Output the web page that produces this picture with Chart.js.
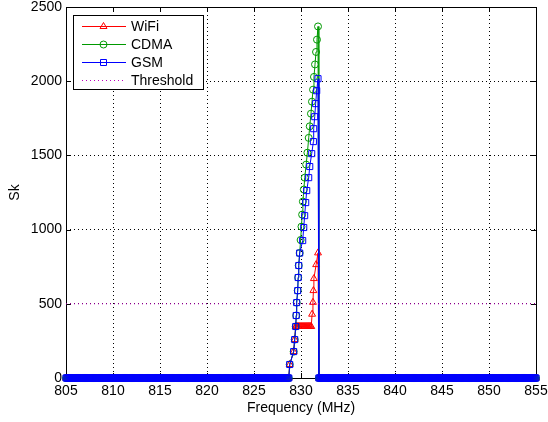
<!DOCTYPE html>
<html>
<head>
<meta charset="utf-8">
<script src="https://cdn.jsdelivr.net/npm/chart.js@4.4.0/dist/chart.umd.min.js"></script>
<style>
  html, body { margin: 0; padding: 0; background: #fff; }
</style>
</head>
<body>
<canvas id="chart" width="548" height="422"></canvas>
<script>
// zero floor either side of the ramp, one sample every 0.1 MHz
const lowBandFreq = [];
for (let f = 8050; f <= 8287; f++) lowBandFreq.push(f / 10);
const highBandFreq = [];
for (let f = 8320; f <= 8550; f++) highBandFreq.push(f / 10);

// ramp section
const wifiFreq = [828.8, 829.22, 829.33, 829.44, 829.5, 829.6, 829.7, 829.8, 829.9, 830.0,
  830.1, 830.2, 830.3, 830.4, 830.5, 830.6, 830.7, 830.8, 830.9, 831.0,
  831.09, 831.18, 831.27, 831.32, 831.37, 831.61, 831.81, 831.9];
const wifiVals = [91, 178, 259, 347, 347, 347, 347, 347, 347, 347,
  347, 347, 347, 347, 347, 347, 347, 347, 347, 347,
  347, 430, 510, 589, 670, 764, 843, 0];

const cdmaFreq = [828.8, 829.22, 829.33, 829.44, 829.49, 829.54, 829.65, 829.7, 829.76, 829.86,
  829.96, 830.05, 830.12, 830.2, 830.3, 830.4, 830.55, 830.68, 830.82, 830.93,
  831.06, 831.17, 831.28, 831.38, 831.49, 831.6, 831.7, 831.81, 831.9];
const cdmaVals = [91, 178, 259, 347, 421, 508, 589, 677, 758, 842,
  930, 1020, 1101, 1189, 1270, 1350, 1438, 1518, 1618, 1696,
  1781, 1862, 1943, 2029, 2113, 2197, 2280, 2369, 0];

const gsmFreq = [828.8, 829.22, 829.33, 829.44, 829.49, 829.54, 829.65, 829.7, 829.76, 829.86,
  830.18, 830.29, 830.39, 830.5, 830.61, 830.82, 830.93, 831.14, 831.32, 831.35,
  831.46, 831.56, 831.67, 831.81, 831.9];
const gsmVals = [91, 178, 259, 347, 421, 508, 589, 677, 758, 842,
  926, 1014, 1094, 1182, 1263, 1350, 1425, 1512, 1593, 1680,
  1761, 1849, 1936, 2017, 0];

const threshold = 500;
const xTicks = [805, 810, 815, 820, 825, 830, 835, 840, 845, 850, 855];
const yTicks = [0, 500, 1000, 1500, 2000, 2500];

const font = { family: "'Liberation Sans', Arial, sans-serif", size: 14 };

function series(freq, vals) {
  const pts = lowBandFreq.map(f => ({ x: f, y: 0 }));
  freq.forEach((f, i) => pts.push({ x: f, y: vals[i] }));
  highBandFreq.forEach(f => pts.push({ x: f, y: 0 }));
  return pts;
}

const legendItems = [
  { label: 'WiFi', color: '#ff0000', marker: 'triangle' },
  { label: 'CDMA', color: '#009900', marker: 'circle' },
  { label: 'GSM', color: '#0000ff', marker: 'rect' },
  { label: 'Threshold', color: 'rgb(191,0,191)', marker: null, dash: [1, 3] }
];

function marker(ctx, type, x, y) {
  ctx.beginPath();
  if (type === 'triangle') {
    ctx.moveTo(x, y - 4);
    ctx.lineTo(x + 3.5, y + 2);
    ctx.lineTo(x - 3.5, y + 2);
    ctx.closePath();
  } else if (type === 'circle') {
    ctx.arc(x, y, 3.5, 0, Math.PI * 2);
  } else {
    ctx.rect(x - 3, y - 3, 6, 6);
  }
  ctx.stroke();
}

// matlab style box, inward ticks
const framePlugin = {
  id: 'frame',
  beforeDatasetsDraw(chart) {
    const { ctx, chartArea: a, scales: { x, y } } = chart;
    ctx.save();
    ctx.strokeStyle = '#000';
    ctx.lineWidth = 1;
    ctx.strokeRect(a.left + 0.5, a.top + 0.5, a.right - a.left, a.bottom - a.top);
    ctx.beginPath();
    xTicks.forEach(v => {
      const px = Math.round(x.getPixelForValue(v)) + 0.5;
      ctx.moveTo(px, a.bottom); ctx.lineTo(px, a.bottom - 5);
      ctx.moveTo(px, a.top); ctx.lineTo(px, a.top + 5);
    });
    yTicks.forEach(v => {
      const py = Math.round(y.getPixelForValue(v)) + 0.5;
      ctx.moveTo(a.left, py); ctx.lineTo(a.left + 5, py);
      ctx.moveTo(a.right, py); ctx.lineTo(a.right - 5, py);
    });
    ctx.stroke();
    ctx.restore();
  },
  afterDraw(chart) {
    const ctx = chart.ctx;
    ctx.save();
    ctx.fillStyle = '#fff';
    ctx.fillRect(73.5, 15.5, 130, 74);
    ctx.strokeStyle = '#000';
    ctx.lineWidth = 1;
    ctx.strokeRect(73.5, 15.5, 130, 74);
    ctx.font = '14px ' + font.family;
    ctx.textBaseline = 'middle';
    legendItems.forEach((it, i) => {
      const yy = 26.5 + i * 18;
      ctx.strokeStyle = it.color;
      ctx.setLineDash(it.dash || []);
      ctx.beginPath();
      ctx.moveTo(82, yy); ctx.lineTo(126, yy);
      ctx.stroke();
      ctx.setLineDash([]);
      if (it.marker) marker(ctx, it.marker, 103.5, yy);
      ctx.fillStyle = '#000';
      ctx.fillText(it.label, 131, yy + 1);
    });
    ctx.restore();
  }
};

new Chart(document.getElementById('chart'), {
  type: 'line',
  data: {
    datasets: [
      {
        label: 'Threshold',
        data: [{ x: 805, y: threshold }, { x: 855, y: threshold }],
        borderColor: 'rgb(191,0,191)', borderWidth: 1, borderDash: [1, 3],
        pointRadius: 0, order: 0
      },
      {
        label: 'GSM', data: series(gsmFreq, gsmVals),
        borderColor: '#0000ff', borderWidth: 1,
        pointStyle: 'rect', pointRadius: 4.3, pointBorderWidth: 1,
        pointBorderColor: '#0000ff', pointBackgroundColor: 'rgba(0,0,0,0)',
        clip: false, order: 1
      },
      {
        label: 'CDMA', data: series(cdmaFreq, cdmaVals),
        borderColor: '#009900', borderWidth: 1,
        pointStyle: 'circle', pointRadius: 3.5, pointBorderWidth: 1,
        pointBorderColor: '#009900', pointBackgroundColor: 'rgba(0,0,0,0)',
        clip: false, order: 2
      },
      {
        label: 'WiFi', data: series(wifiFreq, wifiVals),
        borderColor: '#ff0000', borderWidth: 1,
        pointStyle: 'triangle', pointRadius: 4, pointBorderWidth: 1,
        pointBorderColor: '#ff0000', pointBackgroundColor: 'rgba(0,0,0,0)',
        clip: false, order: 3
      }
    ]
  },
  options: {
    responsive: false,
    animation: false,
    layout: { padding: { top: 7, right: 12, left: 0, bottom: 0 } },
    plugins: { legend: { display: false }, tooltip: { enabled: false } },
    elements: { line: { tension: 0 } },
    scales: {
      x: {
        type: 'linear', min: 805, max: 855,
        afterFit: s => { s.height = 44; s.paddingLeft = 0; s.paddingRight = 0; },
        afterBuildTicks: s => { s.ticks = xTicks.map(v => ({ value: v })); },
        ticks: { color: '#000', font, padding: 5, maxRotation: 0, callback: v => String(v) },
        grid: { color: '#000', lineWidth: 1, drawTicks: false },
        border: { display: false, dash: [1, 3] },
        title: { display: true, text: 'Frequency (MHz)', color: '#000', font, padding: { top: 0, bottom: 5 } }
      },
      y: {
        min: 0, max: 2500,
        afterFit: s => { s.width = 66; s.paddingTop = 0; s.paddingBottom = 0; },
        afterBuildTicks: s => { s.ticks = yTicks.map(v => ({ value: v })); },
        ticks: { color: '#000', font, padding: 4, callback: v => String(v) },
        grid: { color: '#000', lineWidth: 1, drawTicks: false },
        border: { display: false, dash: [1, 3] },
        title: { display: true, text: 'Sk', color: '#000', font, padding: { top: 7, bottom: 0 } }
      }
    }
  },
  plugins: [framePlugin]
});
</script>
</body>
</html>
